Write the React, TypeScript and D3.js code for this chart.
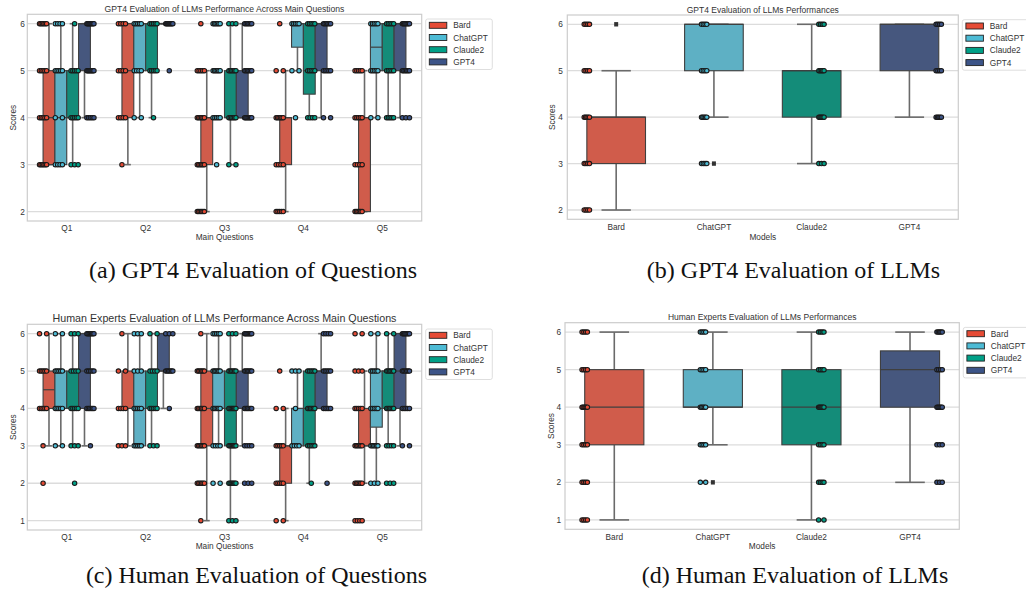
import React from "react";
import * as d3 from "d3";

const models = ["Bard", "ChatGPT", "Claude2", "GPT4"];
const questions = ["Q1", "Q2", "Q3", "Q4", "Q5"];
const palette = ["#E64B35", "#4DBBD5", "#00A087", "#3C5488"];
const yTicksGpt = [2, 3, 4, 5, 6];
const yTicksHuman = [1, 2, 3, 4, 5, 6];

type Box = number[] | null; // [low whisker, q1, median, q3, high whisker]
type Pts = number[][]; // [score, count]

// (a) GPT4 evaluation per question
const gptQBoxes: Box[][] = [
  [[3, 3, 4, 5, 6], [3, 3, 4, 5, 6], [3, 4, 4, 5, 6], [4, 5, 6, 6, 6]],
  [[3, 4, 5, 6, 6], [4, 5, 6, 6, 6], [4, 5, 6, 6, 6], [6, 6, 6, 6, 6]],
  [[2, 3, 4, 4, 5], null, [3, 4, 4, 5, 6], [4, 4, 4, 5, 6]],
  [[2, 3, 4, 4, 5], [5, 5.5, 6, 6, 6], [4, 4.5, 5, 6, 6], [4, 5, 6, 6, 6]],
  [[2, 2, 4, 4, 5], [4, 5, 5.5, 6, 6], [4, 5, 6, 6, 6], [4, 5, 6, 6, 6]],
];
const gptQPoints: Pts[][] = [
  [[[6, 6], [5, 5], [4, 5], [3, 6]], [[6, 4], [5, 5], [4, 2], [3, 4]], [[6, 1], [5, 5], [4, 5], [3, 3]], [[6, 8], [5, 8], [4, 5]]],
  [[[6, 4], [5, 4], [4, 4], [3, 1]], [[6, 5], [5, 4], [4, 2]], [[6, 5], [5, 5], [4, 1]], [[6, 8], [5, 1]]],
  [[[6, 1], [5, 5], [4, 6], [3, 6], [2, 6]], [[6, 6], [5, 6], [4, 5], [3, 1]], [[6, 3], [5, 6], [4, 6], [3, 2]], [[6, 6], [5, 6], [4, 7]]],
  [[[6, 1], [5, 2], [4, 6], [3, 4], [2, 5]], [[6, 5], [5, 2], [4, 1]], [[6, 5], [5, 5], [4, 4]], [[6, 6], [5, 5], [4, 2]]],
  [[[5, 5], [4, 5], [3, 4], [2, 6]], [[6, 5], [5, 5], [4, 2]], [[6, 5], [5, 5], [4, 5]], [[6, 7], [5, 6], [4, 3]]],
];

// (b) GPT4 evaluation per model
const gptMBoxes: Box[] = [[2, 3, 4, 4, 5], [4, 5, 6, 6, 6], [3, 4, 5, 5, 6], [4, 5, 6, 6, 6]];
const gptMFliers: number[][] = [[6], [3], [], []];
const gptMPoints: Pts[] = [
  [[6, 4], [5, 4], [4, 5], [3, 4], [2, 4]],
  [[6, 4], [5, 4], [4, 5], [3, 4]],
  [[6, 4], [5, 5], [4, 6], [3, 3]],
  [[6, 4], [5, 4], [4, 5]],
];

// (c) Human experts evaluation per question
const humanQBoxes: Box[][] = [
  [[3, 4, 4.5, 5, 6], [3, 4, 4, 5, 6], [3, 4, 4, 5, 6], [3, 4, 5, 6, 6]],
  [[3, 4, 4, 5, 6], [3, 3, 4, 5, 6], [3, 4, 4, 5, 6], [4, 5, 5, 6, 6]],
  [[1, 3, 4, 5, 6], [3, 4, 4, 5, 6], [1, 3, 4, 5, 6], [3, 4, 4, 5, 6]],
  [[1, 2, 3, 3, 4], [3, 3, 4, 4, 5], [2, 3, 4, 5, 5], [4, 4, 5, 5, 6]],
  [[2, 3, 3, 4, 5], [2, 3.5, 4, 5, 6], [3, 4, 5, 5, 6], [3, 4, 5, 6, 6]],
];
const humanQPoints: Pts[][] = [
  [[[6, 2], [5, 5], [4, 5], [3, 1], [2, 1]], [[6, 2], [5, 5], [4, 5], [3, 2]], [[6, 3], [5, 4], [4, 5], [3, 3], [2, 1]], [[6, 7], [5, 5], [4, 6], [3, 1]]],
  [[[6, 1], [5, 2], [4, 4], [3, 3]], [[6, 3], [5, 3], [4, 5], [3, 5]], [[6, 2], [5, 4], [4, 5], [3, 3]], [[6, 3], [5, 6], [4, 1]]],
  [[[6, 1], [5, 6], [4, 6], [3, 6], [2, 6], [1, 1]], [[6, 5], [5, 6], [4, 6], [3, 4], [2, 2]], [[6, 3], [5, 6], [4, 7], [3, 7], [2, 7], [1, 3]], [[6, 7], [5, 6], [4, 6], [3, 4], [2, 3]]],
  [[[5, 1], [4, 2], [3, 5], [2, 5], [1, 2]], [[5, 3], [4, 1], [3, 4]], [[5, 5], [4, 6], [3, 5], [2, 1]], [[6, 4], [5, 5], [4, 5], [2, 1]]],
  [[[6, 2], [5, 3], [4, 5], [3, 6], [2, 6], [1, 4]], [[6, 2], [5, 5], [4, 5], [3, 6], [2, 3]], [[6, 2], [5, 6], [4, 6], [3, 4], [2, 3]], [[6, 7], [5, 6], [4, 5], [3, 2]]],
];

// (d) Human experts evaluation per model
const humanMBoxes: Box[] = [[1, 3, 4, 5, 6], [3, 4, 4, 5, 6], [1, 3, 4, 5, 6], [2, 4, 5, 5.5, 6]];
const humanMFliers: number[][] = [[], [2], [], []];
const humanMPoints: Pts[] = [
  [[6, 4], [5, 4], [4, 6], [3, 4], [2, 4], [1, 4]],
  [[6, 4], [5, 4], [4, 5], [3, 4], [2, 2]],
  [[6, 4], [5, 4], [4, 6], [3, 4], [2, 4], [1, 2]],
  [[6, 5], [5, 4], [4, 6], [3, 3], [2, 3]],
];

const desat = (c: string) => {
  const h = d3.hsl(c);
  h.s *= 0.75;
  return h.formatHex();
};

const FONT = "'Liberation Sans', Arial, sans-serif";
const LINE = "#3f3f3f";
const WHISK = "#6a6a6a";

interface Group {
  cat: number;
  hue: number;
  box: Box;
  boxOffset: number;
  boxWidth: number;
  stripOffset: number;
  points: Pts;
  fliers: number[];
}

interface PanelCfg {
  l: number; r: number; t: number; b: number;
  yDomain: [number, number];
  yTicks: number[];
  cats: string[];
  groups: Group[];
  jitter: number;
  title: string;
  titleY: number;
  titleSize: number;
  xlabel: string;
  xlabelY: number;
  ylabelX: number;
  xtickY: number;
  ytickX: number;
}

function Panel({ cfg }: { cfg: PanelCfg }) {
  const band = (cfg.r - cfg.l) / cfg.cats.length;
  const xc = d3.scaleLinear().domain([-0.5, cfg.cats.length - 0.5]).range([cfg.l, cfg.r]);
  const y = d3.scaleLinear().domain(cfg.yDomain).range([cfg.b, cfg.t]);
  const cx = (cfg.l + cfg.r) / 2;
  const cy = (cfg.t + cfg.b) / 2;
  const lt = cfg.t + 4.7;
  return (
    <g>
      <rect x={cfg.l} y={cfg.t} width={cfg.r - cfg.l} height={cfg.b - cfg.t} fill="#fff" />
      {cfg.yTicks.map((v) => (
        <line key={"g" + v} x1={cfg.l} x2={cfg.r} y1={y(v)} y2={y(v)} stroke="#dcdcdc" strokeWidth={1.3} />
      ))}
      {cfg.groups.map((g, i) => {
        if (!g.box) return null;
        const [lo, q1, med, q3, hi] = g.box;
        const c = xc(g.cat) + g.boxOffset * band;
        const w = g.boxWidth * band;
        const capW = w / 4;
        const fill = desat(palette[g.hue]);
        return (
          <g key={"b" + i}>
            <line x1={c} x2={c} y1={y(q1)} y2={y(lo)} stroke={WHISK} strokeWidth={1.6} />
            <line x1={c} x2={c} y1={y(q3)} y2={y(hi)} stroke={WHISK} strokeWidth={1.6} />
            <line x1={c - capW} x2={c + capW} y1={y(lo)} y2={y(lo)} stroke={WHISK} strokeWidth={1.6} />
            <line x1={c - capW} x2={c + capW} y1={y(hi)} y2={y(hi)} stroke={WHISK} strokeWidth={1.6} />
            <rect x={c - w / 2} y={y(q3)} width={w} height={Math.max(0.01, y(q1) - y(q3))} fill={fill} stroke={LINE} strokeWidth={1.1} />
            <line x1={c - w / 2} x2={c + w / 2} y1={y(med)} y2={y(med)} stroke={LINE} strokeWidth={1.2} />
          </g>
        );
      })}
      {cfg.groups.map((g, i) => {
        const c = xc(g.cat) + g.boxOffset * band;
        return g.fliers.map((v, k) => (
          <rect key={"f" + i + "-" + k} x={c - 2} y={y(v) - 2.2} width={4} height={4.4} fill="#333" />
        ));
      })}
      {cfg.groups.map((g, i) => {
        const sc = xc(g.cat) + g.stripOffset * band;
        return g.points.map(([v, n], k) =>
          d3.range(n).map((j) => {
            const t = n === 1 ? 0 : -1 + (2 * j) / (n - 1);
            return (
              <circle
                key={"p" + i + "-" + k + "-" + j}
                cx={sc + t * cfg.jitter * band}
                cy={y(v)}
                r={2.2}
                fill={palette[g.hue]}
                stroke="#1a1a1a"
                strokeWidth={1.1}
              />
            );
          })
        );
      })}
      <rect x={cfg.l} y={cfg.t} width={cfg.r - cfg.l} height={cfg.b - cfg.t} fill="none" stroke="#cccccc" strokeWidth={1.2} />
      {cfg.yTicks.map((v) => (
        <text key={"yt" + v} x={cfg.ytickX} y={y(v)} textAnchor="end" dominantBaseline="central" fontSize={8.3} fontFamily={FONT} fill="#333">
          {v}
        </text>
      ))}
      {cfg.cats.map((c, i) => (
        <text key={"xt" + c} x={xc(i)} y={cfg.xtickY} textAnchor="middle" dominantBaseline="central" fontSize={8.3} fontFamily={FONT} fill="#333">
          {c}
        </text>
      ))}
      <text x={cx} y={cfg.titleY} textAnchor="middle" dominantBaseline="central" fontSize={cfg.titleSize} fontFamily={FONT} fill="#333">
        {cfg.title}
      </text>
      <text x={cx} y={cfg.xlabelY} textAnchor="middle" dominantBaseline="central" fontSize={8.3} fontFamily={FONT} fill="#333">
        {cfg.xlabel}
      </text>
      <text
        transform={`translate(${cfg.ylabelX},${cy}) rotate(-90)`}
        textAnchor="middle"
        dominantBaseline="central"
        fontSize={8.3}
        fontFamily={FONT}
        fill="#333"
      >
        Scores
      </text>
      <g>
        <rect x={cfg.r + 4} y={lt} width={66.6} height={50.5} rx={2} fill="#fff" fillOpacity={0.85} stroke="#d6d6d6" strokeWidth={0.8} />
        {models.map((m, i) => {
          const ry = lt + 6.3 + i * 12.2;
          return (
            <g key={"lg" + m}>
              <rect x={cfg.r + 7.6} y={ry - 3} width={17.5} height={6} fill={palette[i]} stroke="#222" strokeWidth={0.9} />
              <text x={cfg.r + 31.5} y={ry} dominantBaseline="central" fontSize={8.3} fontFamily={FONT} fill="#333">
                {m}
              </text>
            </g>
          );
        })}
      </g>
    </g>
  );
}

function questionGroups(boxes: Box[][], points: Pts[][]): Group[] {
  const out: Group[] = [];
  questions.forEach((_, qi) =>
    models.forEach((_, mi) =>
      out.push({
        cat: qi,
        hue: mi,
        box: boxes[qi][mi],
        boxOffset: (mi - 1.5) * 0.15,
        boxWidth: 0.15,
        stripOffset: (mi - 1.5) * 0.2,
        points: points[qi][mi],
        fliers: [],
      })
    )
  );
  return out;
}

function modelGroups(boxes: Box[], points: Pts[], fliers: number[][]): Group[] {
  return models.map((_, mi) => ({
    cat: mi,
    hue: mi,
    box: boxes[mi],
    boxOffset: 0,
    boxWidth: 0.6,
    stripOffset: (mi - 1.5) * 0.2,
    points: points[mi],
    fliers: fliers[mi],
  }));
}

const panels: PanelCfg[] = [
  {
    l: 27.3, r: 421.7, t: 14.3, b: 221, yDomain: [1.8, 6.2], yTicks: yTicksGpt, cats: questions,
    groups: questionGroups(gptQBoxes, gptQPoints), jitter: 0.045,
    title: "GPT4 Evaluation of LLMs Performance Across Main Questions", titleY: 8.5, titleSize: 8.6,
    xlabel: "Main Questions", xlabelY: 237.3, ylabelX: 13.3, xtickY: 228.4, ytickX: 24.8,
  },
  {
    l: 567.3, r: 958.3, t: 15, b: 219.3, yDomain: [1.8, 6.2], yTicks: yTicksGpt, cats: models,
    groups: modelGroups(gptMBoxes, gptMPoints, gptMFliers), jitter: 0.027,
    title: "GPT4 Evaluation of LLMs Performances", titleY: 9.8, titleSize: 8.5,
    xlabel: "Models", xlabelY: 236.7, ylabelX: 551.7, xtickY: 227.3, ytickX: 562.8,
  },
  {
    l: 27.3, r: 421.7, t: 324.3, b: 530, yDomain: [0.75, 6.25], yTicks: yTicksHuman, cats: questions,
    groups: questionGroups(humanQBoxes, humanQPoints), jitter: 0.045,
    title: "Human Experts Evaluation of LLMs Performance Across Main Questions", titleY: 318, titleSize: 10.7,
    xlabel: "Main Questions", xlabelY: 546, ylabelX: 13, xtickY: 536.5, ytickX: 24.8,
  },
  {
    l: 565, r: 959.3, t: 322.7, b: 529.3, yDomain: [0.75, 6.25], yTicks: yTicksHuman, cats: models,
    groups: modelGroups(humanMBoxes, humanMPoints, humanMFliers), jitter: 0.027,
    title: "Human Experts Evaluation of LLMs Performances", titleY: 317.3, titleSize: 8.5,
    xlabel: "Models", xlabelY: 545.7, ylabelX: 550.7, xtickY: 536.7, ytickX: 561,
  },
];

const captions = [
  { text: "(a) GPT4 Evaluation of Questions", x: 253, y: 278 },
  { text: "(b) GPT4 Evaluation of LLMs", x: 793.5, y: 278 },
  { text: "(c) Human Evaluation of Questions", x: 256.5, y: 583 },
  { text: "(d) Human Evaluation of LLMs", x: 795, y: 583 },
];

export default function App() {
  return (
    <svg
      width={1026}
      height={590}
      viewBox="0 0 1026 590"
      style={{ position: "absolute", left: 0, top: 0, background: "#fff" }}
    >
      <rect x={0} y={0} width={1026} height={590} fill="#fff" />
      {panels.map((p, i) => (
        <Panel key={i} cfg={p} />
      ))}
      {captions.map((c) => (
        <text key={c.text} x={c.x} y={c.y} textAnchor="middle" fontSize={24} fontFamily="'Liberation Serif', 'Times New Roman', serif" fill="#111">
          {c.text}
        </text>
      ))}
    </svg>
  );
}
